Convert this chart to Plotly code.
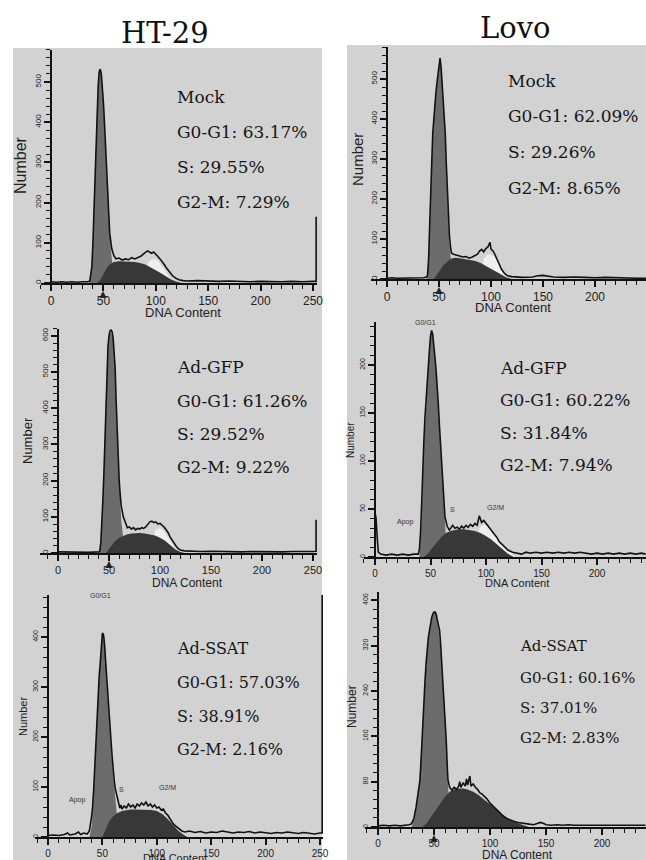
import plotly.graph_objects as go

W, H = 646, 860

# ---------------- data ----------------
column_titles = ["HT-29", "Lovo"]
treatments = ["Mock", "Mock", "Ad-GFP", "Ad-GFP", "Ad-SSAT", "Ad-SSAT"]
g0g1_pct = ["63.17%", "62.09%", "61.26%", "60.22%", "57.03%", "60.16%"]
s_pct = ["29.55%", "29.26%", "29.52%", "31.84%", "38.91%", "37.01%"]
g2m_pct = ["7.29%", "8.65%", "9.22%", "7.94%", "2.16%", "2.83%"]
x_tick_vals = [0, 50, 100, 150, 200, 250]
phase_labels = ["G0/G1", "Apop", "S", "G2/M"]

# (DNA content, number) pairs of the measured histogram outline
ht29_mock_outline = [(0,3),(5,2),(10,3),(15,2),(20,3),(25,2),(30,3),(35,3),(37,5),(39,40),(40,100),(41,180),(42,288),(43,370),(44,440),(45,490),(46,525),(47,532),(48,520),(49,490),(50,450),(51,400),(52,340),(53,288),(54,230),(55,170),(56,124),(58,85),(60,68),(62,60),(65,62),(68,57),(71,60),(74,58),(77,63),(80,60),(83,63),(86,67),(88,72),(90,76),(92,80),(94,77),(96,74),(98,77),(100,70),(102,66),(104,60),(106,54),(108,46),(110,38),(113,28),(116,18),(119,12),(122,8),(126,6),(130,5),(140,6),(150,5),(160,4),(170,5),(180,4),(190,3),(200,4),(210,3),(220,3),(230,4),(240,3),(250,4),(253,4),(253,165)]
ht29_mock_g1 = [(36,0),(38,15),(40,95),(42,280),(44,435),(46,520),(47,530),(48,515),(50,440),(52,330),(54,215),(56,120),(58,60),(60,25),(62,8),(64,0)]
ht29_mock_s = [(44,0),(47,8),(50,22),(53,36),(56,46),(60,52),(65,54),(70,54),(75,53),(80,52),(85,50),(90,46),(95,40),(100,32),(105,24),(110,15),(115,8),(120,3),(125,0)]
ht29_mock_g2 = [(90,0),(93,52),(96,58),(99,60),(102,56),(105,46),(108,34),(111,22),(114,10),(117,0)]

lovo_mock_outline = [(0,2),(5,3),(10,2),(15,2),(20,3),(25,2),(30,2),(35,3),(38,5),(39,10),(40,50),(41,115),(42,200),(43,290),(44,365),(45,405),(46,440),(47,465),(48,490),(49,515),(50,540),(51,552),(52,530),(53,490),(54,440),(55,400),(56,365),(57,290),(58,220),(59,155),(60,110),(61,80),(62,65),(64,62),(67,60),(70,57),(73,55),(76,56),(79,52),(82,55),(85,58),(87,62),(89,70),(91,74),(93,68),(95,76),(97,80),(99,92),(100,75),(102,70),(104,60),(106,48),(108,36),(110,25),(113,14),(116,8),(120,6),(125,5),(130,4),(140,5),(145,8),(150,9),(155,7),(160,5),(170,4),(180,5),(190,4),(200,3),(210,4),(220,3),(230,3),(240,2),(249,2)]
lovo_mock_g1 = [(38,0),(40,40),(42,190),(44,360),(46,440),(48,490),(50,540),(51,550),(52,530),(54,440),(56,360),(58,200),(60,90),(62,35),(64,10),(66,0)]
lovo_mock_s = [(45,0),(48,10),(51,22),(54,34),(57,42),(60,48),(63,52),(66,53),(70,52),(75,50),(80,48),(85,45),(90,40),(95,33),(100,25),(105,17),(110,10),(115,4),(120,0)]
lovo_mock_g2 = [(90,0),(93,50),(96,60),(99,62),(102,58),(105,48),(108,34),(111,20),(114,8),(117,0)]

ht29_gfp_outline = [(0,3),(10,2),(20,3),(30,2),(40,3),(41,5),(42,30),(43,80),(44,146),(45,220),(46,310),(47,410),(48,514),(49,570),(50,600),(51,614),(52,616),(53,612),(54,595),(55,560),(56,514),(57,420),(58,330),(59,260),(60,200),(61,160),(62,130),(64,100),(66,85),(68,70),(70,72),(72,66),(74,70),(76,64),(78,68),(80,66),(82,70),(84,68),(86,72),(88,80),(90,86),(92,88),(94,84),(96,86),(98,80),(100,82),(102,78),(104,72),(106,64),(108,56),(110,44),(112,34),(114,26),(116,18),(118,12),(120,8),(124,6),(130,5),(140,4),(150,5),(160,4),(170,4),(180,3),(190,4),(200,3),(210,4),(220,3),(230,4),(240,3),(250,4),(253,5),(253,92)]
ht29_gfp_g1 = [(40,0),(42,25),(44,140),(46,300),(48,505),(50,595),(52,612),(54,590),(56,505),(58,320),(60,180),(62,90),(64,40),(66,12),(68,0)]
ht29_gfp_s = [(47,0),(50,10),(53,22),(56,33),(60,42),(64,48),(68,52),(72,54),(76,55),(80,55),(85,54),(90,52),(95,48),(100,42),(105,34),(110,22),(115,10),(120,3),(124,0)]
ht29_gfp_g2 = [(92,0),(95,62),(98,68),(101,68),(104,60),(107,48),(110,34),(113,20),(116,6),(118,0)]

lovo_gfp_outline = [(0,46),(1,40),(2,20),(3,5),(5,3),(10,2),(15,3),(20,2),(25,3),(30,2),(35,3),(39,3),(40,8),(41,25),(42,55),(43,94),(44,120),(45,145),(46,165),(47,180),(48,195),(49,215),(50,230),(51,236),(52,232),(53,222),(54,208),(55,195),(56,181),(57,160),(58,138),(59,120),(60,100),(61,80),(62,60),(63,42),(65,32),(67,28),(70,33),(72,30),(74,31),(76,29),(78,32),(80,30),(82,33),(84,31),(86,34),(88,32),(90,35),(92,33),(94,43),(95,40),(96,36),(98,38),(100,35),(102,32),(104,30),(106,26),(108,24),(110,20),(112,16),(114,14),(116,11),(118,9),(120,7),(124,5),(128,4),(132,3),(136,5),(140,4),(145,5),(150,4),(155,5),(160,4),(165,5),(170,4),(175,5),(180,4),(185,5),(190,4),(195,3),(200,4),(205,3),(210,4),(215,3),(220,4),(225,3),(230,4),(235,3),(240,4),(244,3)]
lovo_gfp_g1 = [(40,0),(42,40),(44,115),(46,160),(48,192),(50,228),(51,234),(52,230),(54,205),(56,178),(58,135),(60,92),(62,50),(64,18),(66,5),(68,0)]
lovo_gfp_s = [(44,0),(48,4),(52,10),(56,16),(60,21),(64,25),(68,27),(72,28),(76,29),(80,29),(85,28),(90,27),(95,25),(100,22),(105,18),(110,13),(115,8),(120,3),(125,0)]
lovo_gfp_g2 = [(90,0),(94,30),(98,34),(102,32),(106,28),(110,22),(114,15),(118,10),(122,5),(126,0)]

ht29_ssat_outline = [(0,3),(5,4),(10,3),(15,5),(18,8),(20,4),(25,6),(28,10),(30,5),(33,8),(36,6),(38,12),(40,40),(41,60),(42,95),(43,140),(44,195),(45,248),(46,285),(47,320),(48,348),(49,390),(50,408),(51,405),(52,385),(53,350),(54,314),(55,280),(56,250),(57,226),(58,190),(59,160),(60,126),(61,110),(62,95),(63,85),(64,80),(65,66),(66,58),(67,64),(68,56),(70,62),(72,58),(74,66),(76,60),(78,64),(80,58),(82,66),(84,62),(86,68),(88,64),(90,70),(92,62),(94,66),(96,60),(98,64),(100,58),(102,60),(104,54),(106,56),(108,48),(110,44),(112,36),(114,30),(116,24),(118,20),(120,16),(123,12),(126,10),(130,12),(135,9),(140,11),(145,8),(150,10),(155,9),(160,12),(165,10),(170,8),(175,10),(180,9),(185,11),(190,8),(195,10),(200,9),(205,7),(210,9),(215,8),(220,10),(225,8),(230,7),(235,9),(240,8),(245,6),(250,8),(252,8),(252,484)]
ht29_ssat_g1 = [(38,0),(40,20),(42,85),(44,190),(46,280),(48,345),(50,400),(51,405),(52,395),(54,310),(56,235),(58,180),(60,120),(62,70),(64,30),(66,10),(68,0)]
ht29_ssat_s = [(50,0),(53,15),(56,30),(60,42),(64,48),(68,52),(72,54),(76,55),(80,55),(85,55),(90,55),(95,54),(100,52),(105,46),(110,36),(115,24),(120,12),(125,4),(128,0)]
ht29_ssat_g2 = []

lovo_ssat_outline = [(0,2),(5,3),(10,2),(15,3),(20,2),(25,3),(28,4),(30,6),(32,15),(34,35),(36,60),(37.5,83),(39,140),(40,190),(41,230),(42,259),(43,290),(44,315),(45,335),(46,347),(47,360),(48,370),(49,376),(50,379),(51,379),(52,375),(53,365),(54,352),(55,347),(56,320),(57,285),(58,250),(59,225),(60,201),(61,150),(62,100),(62.5,82),(64,70),(66,65),(68,70),(70,66),(72,72),(73,80),(74,70),(76,78),(78,72),(79,85),(80,74),(82,90),(83,72),(85,76),(87,70),(89,66),(91,60),(93,58),(95,54),(97,50),(100,42),(102,38),(104,34),(106,30),(109,24),(112,19),(115,15),(118,12),(121,10),(125,8),(130,6),(135,5),(139,4),(142,6),(145,8),(148,6),(150,4),(155,3),(160,4),(165,3),(170,4),(175,3),(180,3),(185,4),(190,3),(195,3),(200,4),(205,3),(210,3),(215,4),(220,3),(225,3),(230,4),(235,3),(239,3)]
lovo_ssat_g1 = [(30,0),(33,20),(36,58),(39,140),(42,255),(45,330),(48,368),(50,378),(51,379),(52,374),(54,350),(56,310),(58,245),(60,190),(62,90),(64,30),(66,0)]
lovo_ssat_s = [(40,0),(44,8),(48,20),(52,32),(56,44),(60,54),(64,62),(68,66),(72,68),(76,68),(80,66),(85,62),(90,56),(95,48),(100,40),(105,32),(110,24),(115,16),(120,10),(125,6),(130,3),(135,0)]
lovo_ssat_g2 = []

# ---------------- layout geometry (pixels) ----------------
def fx(p):
    return p / W

def fy(p):
    return 1 - p / H

panels = [
    dict(outline=ht29_mock_outline, g1=ht29_mock_g1, s=ht29_mock_s, g2=ht29_mock_g2,
         x0=51, xs=1.048, y0=283, ys=0.402, xr=(-10, 254), yr=(0, 580), ydt=100, ymn=20,
         tx=175, ty=[97, 132, 167, 202], tfs=17, ytf=8, xtf=12,
         num=(20, 165, 16), dna=(183, 312, 13), tri=True, small=None),
    dict(outline=lovo_mock_outline, g1=lovo_mock_g1, s=lovo_mock_s, g2=lovo_mock_g2,
         x0=387, xs=1.04, y0=279, ys=0.4, xr=(-15, 249), yr=(0, 580), ydt=100, ymn=20,
         tx=506, ty=[81, 116, 152, 188], tfs=17, ytf=8, xtf=12,
         num=(357, 160, 15), dna=(513, 307, 13), tri=True, small=None),
    dict(outline=ht29_gfp_outline, g1=ht29_gfp_g1, s=ht29_gfp_s, g2=ht29_gfp_g2,
         x0=58, xs=1.02, y0=553, ys=0.362, xr=(-18, 254), yr=(0, 620), ydt=100, ymn=20,
         tx=175, ty=[367, 401, 434, 467], tfs=17, ytf=8, xtf=11,
         num=(27, 440, 13), dna=(187, 583, 12), tri=True, small=None),
    dict(outline=lovo_gfp_outline, g1=lovo_gfp_g1, s=lovo_gfp_s, g2=lovo_gfp_g2,
         x0=375, xs=1.11, y0=557, ys=0.96, xr=(-10, 244), yr=(0, 245), ydt=50, ymn=10,
         tx=498, ty=[368, 400, 433, 465], tfs=17, ytf=7, xtf=10,
         num=(350, 440, 10), dna=(517, 583, 11), tri=False,
         small=[(425, 322), (405, 522), (452, 509), (495, 507)]),
    dict(outline=ht29_ssat_outline, g1=ht29_ssat_g1, s=ht29_ssat_s, g2=ht29_ssat_g2,
         x0=48, xs=1.088, y0=837, ys=0.5, xr=(-12, 253), yr=(0, 484), ydt=100, ymn=20,
         tx=175, ty=[648, 682, 716, 749], tfs=16, ytf=7, xtf=10,
         num=(23, 717, 11), dna=(175, 858, 11), tri=False,
         small=[(100, 595), (77, 800), (122, 789), (167, 787)]),
    dict(outline=lovo_ssat_outline, g1=lovo_ssat_g1, s=lovo_ssat_s, g2=lovo_ssat_g2,
         x0=378, xs=1.12, y0=827, ys=0.567, xr=(-12, 239), yr=(0, 415), ydt=80, ymn=16,
         tx=518, ty=[646, 678, 708, 738], tfs=15, ytf=7, xtf=10,
         num=(352, 707, 12), dna=(517, 855, 12), tri=True, small=None),
]

G1_COLOR = "#6c6c6c"
S_COLOR = "#383838"
G2_COLOR = "#efefef"
BG_GRAY = "#d2d2d2"
SANS = "Liberation Sans"
SERIF = "DejaVu Serif"

fig = go.Figure()
annotations = []
shapes = [
    dict(type="rect", xref="paper", yref="paper", x0=fx(13), x1=fx(322), y0=fy(860), y1=fy(48),
         fillcolor=BG_GRAY, line=dict(width=0), layer="below"),
    dict(type="rect", xref="paper", yref="paper", x0=fx(347), x1=fx(646), y0=fy(860), y1=fy(45),
         fillcolor=BG_GRAY, line=dict(width=0), layer="below"),
]

layout_axes = {}
for i, p in enumerate(panels):
    n = "" if i == 0 else str(i + 1)
    xa, ya = "x" + n, "y" + n
    left = p["x0"] + p["xr"][0] * p["xs"]
    right = min(p["x0"] + p["xr"][1] * p["xs"], W)
    top = p["y0"] - p["yr"][1] * p["ys"]
    bottom = p["y0"]

    def add_fill(pts, color):
        if not pts:
            return
        fig.add_trace(go.Scatter(x=[a for a, b in pts], y=[b for a, b in pts], xaxis=xa, yaxis=ya,
                                 mode="lines", fill="tozeroy", fillcolor=color,
                                 line=dict(width=0, color=color), hoverinfo="skip"))

    add_fill(p["g1"], G1_COLOR)
    add_fill(p["g2"], G2_COLOR)
    add_fill(p["s"], S_COLOR)
    fig.add_trace(go.Scatter(x=[a for a, b in p["outline"]], y=[b for a, b in p["outline"]],
                             xaxis=xa, yaxis=ya, mode="lines",
                             line=dict(color="#111111", width=1.6), hoverinfo="skip"))

    layout_axes["xaxis" + n] = dict(
        domain=[fx(left), fx(right)], range=list(p["xr"]), anchor=ya,
        showline=True, linecolor="#111", linewidth=1.6, showgrid=False, zeroline=False,
        ticks="outside", ticklen=6, tickwidth=1.5, tickcolor="#111",
        tickvals=x_tick_vals, tickfont=dict(family=SANS, size=p["xtf"], color="#222"),
        minor=dict(dtick=10, tick0=0, ticks="outside", ticklen=4, tickwidth=1.3, tickcolor="#111"),
        automargin=False, fixedrange=True)
    layout_axes["yaxis" + n] = dict(
        domain=[fy(bottom), fy(top)], range=list(p["yr"]), anchor="free", position=fx(p["x0"]),
        showline=True, linecolor="#111", linewidth=1.6, showgrid=False, zeroline=False,
        ticks="outside", ticklen=6, tickwidth=1.5, tickcolor="#111",
        dtick=p["ydt"], tick0=0, tickangle=-90,
        tickfont=dict(family=SANS, size=p["ytf"], color="#222"),
        minor=dict(dtick=p["ymn"], tick0=0, ticks="outside", ticklen=4, tickwidth=1.3, tickcolor="#111"),
        automargin=False, fixedrange=True)

    # statistics text
    lines = [treatments[i], "G0-G1: " + g0g1_pct[i], "S: " + s_pct[i], "G2-M: " + g2m_pct[i]]
    for txt, ty in zip(lines, p["ty"]):
        annotations.append(dict(text=txt, xref="paper", yref="paper", x=fx(p["tx"]), y=fy(ty),
                                xanchor="left", yanchor="middle", showarrow=False,
                                font=dict(family=SERIF, size=p["tfs"], color="#161616")))
    # axis titles
    nx, ny, ns = p["num"]
    annotations.append(dict(text="Number", xref="paper", yref="paper", x=fx(nx), y=fy(ny),
                            textangle=-90, showarrow=False, xanchor="center", yanchor="middle",
                            font=dict(family=SANS, size=ns, color="#222")))
    dx, dy, ds = p["dna"]
    annotations.append(dict(text="DNA Content", xref="paper", yref="paper", x=fx(dx), y=fy(dy),
                            showarrow=False, xanchor="center", yanchor="middle",
                            font=dict(family=SANS, size=ds, color="#222")))
    if p["tri"]:
        annotations.append(dict(text="▲", xref=xa, yref=ya, x=50, y=0, yanchor="top",
                                showarrow=False, font=dict(size=12, color="#222")))
    if p["small"]:
        for lab, (sx, sy) in zip(phase_labels, p["small"]):
            annotations.append(dict(text=lab, xref="paper", yref="paper", x=fx(sx), y=fy(sy),
                                    showarrow=False, xanchor="center", yanchor="middle",
                                    font=dict(family=SANS, size=7, color="#333")))

# column titles
for title, (cx, cy) in zip(column_titles, [(165, 33), (515, 28)]):
    annotations.append(dict(text=title, xref="paper", yref="paper", x=fx(cx), y=fy(cy),
                            showarrow=False, xanchor="center", yanchor="middle",
                            font=dict(family=SERIF, size=29, color="#111")))

fig.update_layout(
    width=W, height=H, margin=dict(l=0, r=0, t=0, b=0),
    paper_bgcolor="#ffffff", plot_bgcolor="rgba(0,0,0,0)",
    showlegend=False, shapes=shapes, annotations=annotations, **layout_axes)

fig.write_html("out.html", config={"displayModeBar": False},
               post_script="document.body.style.margin='0';document.body.style.overflow='hidden';")
